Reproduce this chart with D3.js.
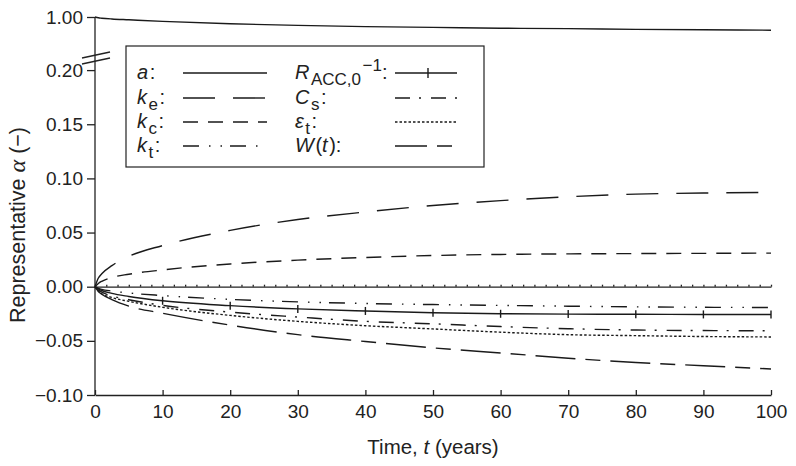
<!DOCTYPE html>
<html lang="en">
<head>
<meta charset="UTF-8">
<script src="https://d3js.org/d3.v7.min.js"></script>
<title>Representative alpha over time</title>
<style>
  body { margin: 0; background: #fff; }
  svg { font-family: "Liberation Sans", Arial, sans-serif; }
  .axis text { font-size: 19px; fill: #222; }
  .axis line, .axis path { stroke: #222; stroke-width: 1.3; }
  .curve { fill: none; stroke: #1a1a1a; stroke-width: 1.4; }
  .leg text { font-size: 20px; fill: #222; }
</style>
</head>
<body>
<div id="chart"></div>
<script>
// years sampled along every curve
const years = [0, 0.5, 1, 2.5, 5, 10, 20, 30, 40, 50, 60, 70, 80, 90, 100];

// series values
const aTop  = [1.000, 0.998, 0.997, 0.995, 0.993, 0.989, 0.983, 0.979, 0.976, 0.974, 0.972, 0.971, 0.969, 0.968, 0.967];
const kE    = [0, 0.008, 0.012, 0.0195, 0.028, 0.038, 0.052, 0.062, 0.069, 0.075, 0.0795, 0.083, 0.0855, 0.0865, 0.087];
const kC    = [0, 0.003, 0.005, 0.0085, 0.0115, 0.0155, 0.021, 0.0245, 0.027, 0.0288, 0.0298, 0.0303, 0.0306, 0.0308, 0.031];
const kT    = [0, -0.0015, -0.0025, -0.004, -0.0058, -0.0082, -0.0117, -0.014, -0.0155, -0.0165, -0.0173, -0.018, -0.0186, -0.019, -0.0192];
const rAcc  = [0, -0.002, -0.0035, -0.0062, -0.009, -0.013, -0.0175, -0.0205, -0.0224, -0.024, -0.025, -0.0253, -0.0255, -0.0256, -0.0257];
const cS    = [0, -0.003, -0.005, -0.0085, -0.012, -0.0172, -0.0235, -0.028, -0.032, -0.0343, -0.0368, -0.0388, -0.040, -0.0405, -0.0407];
const epsT  = [0, -0.004, -0.0065, -0.010, -0.0135, -0.019, -0.0265, -0.032, -0.036, -0.039, -0.042, -0.0443, -0.0452, -0.046, -0.0464];
const wT    = [0, -0.0045, -0.007, -0.012, -0.018, -0.0245, -0.0355, -0.0443, -0.0506, -0.0565, -0.0612, -0.066, -0.070, -0.073, -0.076];

// tick labels
const xTicks = [0, 10, 20, 30, 40, 50, 60, 70, 80, 90, 100];
const yTicksLow = [-0.10, -0.05, 0.00, 0.05, 0.10, 0.15, 0.20];
const yTicksHigh = [1.00];

const width = 796, height = 466;

const svg = d3.select("#chart").append("svg")
    .attr("width", width)
    .attr("height", height);

// scales: lower panel and compressed top segment above the break
const x = d3.scaleLinear().domain([0, 100]).range([95, 771]);
const y = d3.scaleLinear().domain([-0.1, 0.2]).range([395, 70.1]);
const yTop = d3.scaleLinear().domain([0.9, 1.0]).range([57, 17]);

// x axis, ticks pointing inwards
svg.append("g")
    .attr("class", "axis")
    .attr("transform", "translate(0,395)")
    .call(d3.axisBottom(x).tickValues(xTicks).tickSizeInner(-5).tickSizeOuter(0).tickPadding(10));

// y axis (two pieces)
const yAxisLow = svg.append("g")
    .attr("class", "axis")
    .attr("transform", "translate(95,0)")
    .call(d3.axisLeft(y).tickValues(yTicksLow).tickSize(8).tickPadding(4).tickFormat(d3.format(".2f")));
yAxisLow.select(".domain").remove();

const yAxisHigh = svg.append("g")
    .attr("class", "axis")
    .attr("transform", "translate(95,0)")
    .call(d3.axisLeft(yTop).tickValues(yTicksHigh).tickSize(8).tickPadding(4).tickFormat(d3.format(".2f")));
yAxisHigh.select(".domain").remove();

svg.append("line")
    .attr("x1", 95).attr("x2", 95)
    .attr("y1", yTop(1.0)).attr("y2", 395)
    .attr("stroke", "#222").attr("stroke-width", 1.3);

// axis break marks
[0, 6].forEach(off => {
    svg.append("line")
        .attr("x1", 82).attr("y1", 58 + off)
        .attr("x2", 110).attr("y2", 52 + off)
        .attr("stroke", "#222").attr("stroke-width", 1.3);
});

// zero reference line with small ticks
svg.append("g")
    .attr("class", "axis zero")
    .attr("transform", `translate(0,${y(0)})`)
    .call(d3.axisTop(x).tickValues(d3.range(0, 100.01, 10 / 6)).tickSize(2).tickSizeOuter(0).tickFormat(""))
    .selectAll(".tick line").attr("stroke-width", 1);

// curves
const lineLow = d3.line()
    .x((d, i) => x(years[i]))
    .y(d => y(d))
    .curve(d3.curveMonotoneX);
const lineHigh = d3.line()
    .x((d, i) => x(years[i]))
    .y(d => yTop(d))
    .curve(d3.curveMonotoneX);

const dashes = {
    a: null,
    kE: "32,18",
    kC: "15,10",
    kT: "16,10,1.5,10,1.5,8",
    rAcc: null,
    cS: "15,9,2,10",
    epsT: "2.5,2",
    wT: "40,10,15,10"
};

svg.append("path").attr("class", "curve").attr("d", lineHigh(aTop));

const lowSeries = [
    { key: "kE", values: kE },
    { key: "kC", values: kC },
    { key: "kT", values: kT },
    { key: "rAcc", values: rAcc },
    { key: "cS", values: cS },
    { key: "epsT", values: epsT },
    { key: "wT", values: wT }
];

svg.selectAll(".low")
    .data(lowSeries)
    .enter().append("path")
    .attr("class", "curve low")
    .attr("d", d => lineLow(d.values))
    .attr("stroke-dasharray", d => dashes[d.key]);

// crosses on R_ACC every 10 years
svg.selectAll(".cross")
    .data(years.map((t, i) => ({ t: t, v: rAcc[i] })).filter(d => d.t > 0 && d.t % 10 === 0))
    .enter().append("line")
    .attr("class", "curve")
    .attr("x1", d => x(d.t)).attr("x2", d => x(d.t))
    .attr("y1", d => y(d.v) - 4).attr("y2", d => y(d.v) + 4);

// axis titles
svg.append("text")
    .attr("x", 433).attr("y", 454)
    .attr("text-anchor", "middle")
    .style("font-size", "20.5px").style("fill", "#222")
    .call(t => {
        t.append("tspan").text("Time, ");
        t.append("tspan").style("font-style", "italic").text("t");
        t.append("tspan").text(" (years)");
    });

svg.append("text")
    .attr("transform", "translate(25,225) rotate(-90)")
    .attr("text-anchor", "middle")
    .style("font-size", "21.5px").style("fill", "#222")
    .call(t => {
        t.append("tspan").text("Representative ");
        t.append("tspan").style("font-family", "'Liberation Serif', serif").style("font-style", "italic").style("font-size", "24px").text("\u03b1");
        t.append("tspan").text(" (\u2212)");
    });

// legend
const leg = svg.append("g").attr("class", "leg");
leg.append("rect")
    .attr("x", 126).attr("y", 46).attr("width", 358).attr("height", 121)
    .attr("fill", "#fff").attr("stroke", "#222").attr("stroke-width", 1.2);

const legendItems = [
    { key: "a",    col: 0, row: 0, label: [["a", "i"], [":", ""]] },
    { key: "kE",   col: 0, row: 1, label: [["k", "i"], ["e", "sub"], [":", ""]] },
    { key: "kC",   col: 0, row: 2, label: [["k", "i"], ["c", "sub"], [":", ""]] },
    { key: "kT",   col: 0, row: 3, label: [["k", "i"], ["t", "sub"], [":", ""]] },
    { key: "rAcc", col: 1, row: 0, label: [["R", "i"], ["ACC,0", "sub"], ["\u22121", "sup"], [":", ""]] },
    { key: "cS",   col: 1, row: 1, label: [["C", "i"], ["s", "sub"], [":", ""]] },
    { key: "epsT", col: 1, row: 2, label: [["\u03b5", "i"], ["t", "sub"], [":", ""]] },
    { key: "wT",   col: 1, row: 3, label: [["W", "i"], ["(", ""], ["t", "i"], [")", ""], [":", ""]] }
];
const colText = [137, 295];
const colLine = [[183, 267], [395, 457]];
const rowBase = [79, 104, 128, 152];

legendItems.forEach(it => {
    const base = rowBase[it.row];
    const txt = leg.append("text").attr("x", colText[it.col]).attr("y", base);
    let shift = 0;
    let prev = "";
    it.label.forEach(([s, kind]) => {
        const sp = txt.append("tspan").text(s);
        let target = 0;
        if (kind === "i") sp.style("font-style", "italic");
        if (kind === "sub") { target = 6; sp.style("font-size", "17px"); }
        if (kind === "sup") { target = -8; sp.style("font-size", "17px"); }
        // small gap after italic letters and around sub/superscripts
        if (prev === "i" || kind === "sup" || (prev === "sub" && kind === "")) sp.attr("dx", 1.5);
        sp.attr("dy", target - shift);
        shift = target;
        prev = kind;
    });
    const [x1, x2] = colLine[it.col];
    const ly = base - 6;
    leg.append("line")
        .attr("class", "curve")
        .attr("x1", x1).attr("x2", x2).attr("y1", ly).attr("y2", ly)
        .attr("stroke-dasharray", it.key === "wT" ? "32,10,15,10" : dashes[it.key]);
    if (it.key === "rAcc") {
        leg.append("line").attr("class", "curve")
            .attr("x1", 428).attr("x2", 428).attr("y1", ly - 5).attr("y2", ly + 5);
    }
});
</script>
</body>
</html>
